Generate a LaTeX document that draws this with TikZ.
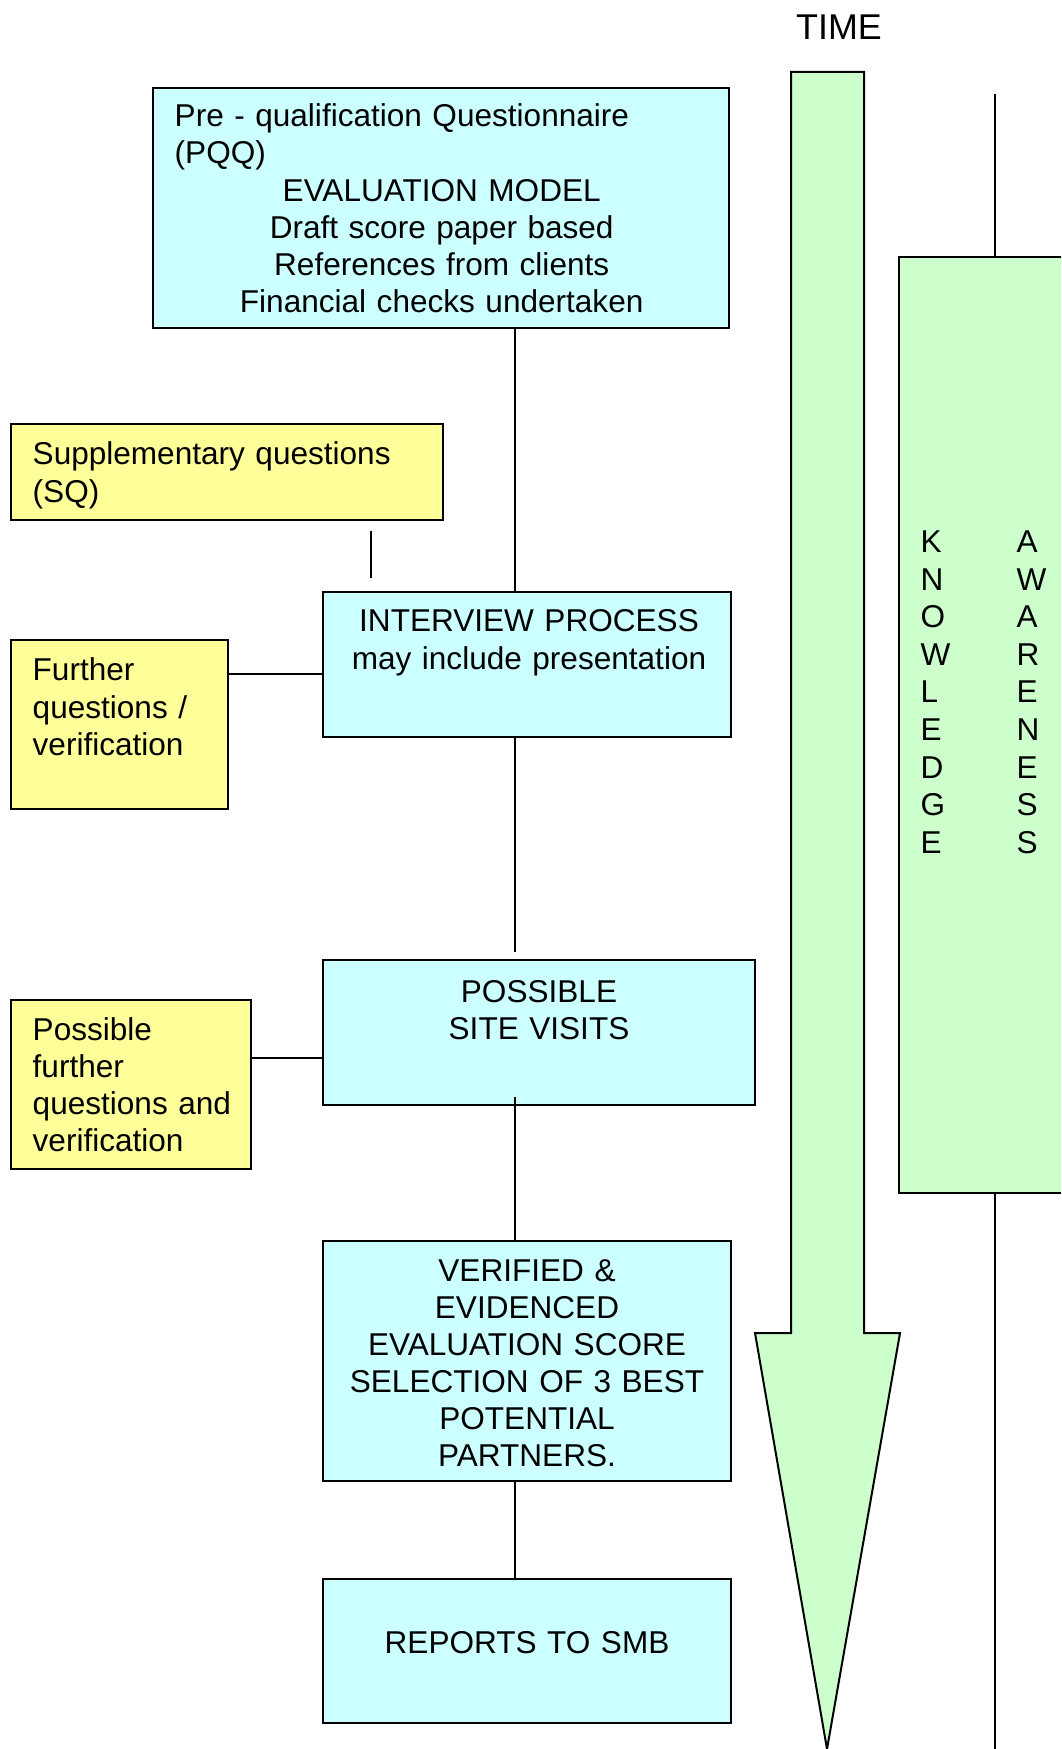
\documentclass[tikz,border=0pt]{standalone}
\usepackage{fontspec}
\setmainfont{Liberation Sans}
\usetikzlibrary{calc}

\definecolor{boxblue}{HTML}{CCFFFF}
\definecolor{boxyellow}{HTML}{FFFF99}
\definecolor{timegreen}{HTML}{CCFFCC}
\newcommand{\bodysize}{\fontsize{8.98pt}{10.53pt}\selectfont}

\tikzset{
  bluebox/.style={draw, line width=0.2mm, fill=boxblue, inner sep=0pt},
  yellowbox/.style={draw, line width=0.2mm, fill=boxyellow, inner sep=0pt},
  greenbox/.style={draw, line width=0.2mm, fill=timegreen},
  link/.style={line width=0.15mm},
  txt/.style={font=\bodysize, inner sep=0pt},
  letter/.style={font=\bodysize, inner sep=0pt, anchor=base west}
}

\begin{document}
\begin{tikzpicture}[x=0.1mm, y=-0.1mm]

        \useasboundingbox (0,0) rectangle (1061,1749);
        \clip (0,0) rectangle (1061,1749);

        % Knowledge / awareness band
        \coordinate (katop) at (995,94);
        \coordinate (kabot) at (995,1749);
        \node[greenbox, minimum width=19.2mm, minimum height=93.6mm] (ka) at (995,725) {};
        \draw[link] (katop) -- (ka.north);
        \draw[link] (ka.south) -- (kabot);
        \foreach \ch [count=\i from 0] in {K,N,O,W,L,E,D,G,E}
            \node[letter] (know\i) at (920, {552.5+37.6*\i}) {\ch};
        \foreach \ch [count=\i from 0] in {A,W,A,R,E,N,E,S,S}
            \node[letter] (aware\i) at (1016, {552.5+37.6*\i}) {\ch};

        % Time arrow
        \draw[greenbox, line join=miter] (791,72) -- (864,72) -- (864,1333) -- (900,1333)
            -- (827,1749) -- (755,1333) -- (791,1333) -- cycle;
        \node[font=\fontsize{10.2pt}{12pt}\selectfont, anchor=base, inner sep=0pt] (time) at (839,40) {TIME};

        % Process boxes
        \node[bluebox, minimum width=57.6mm, minimum height=24mm] (pqq) at (441,208) {};
        \node[yellowbox, minimum width=43.2mm, minimum height=9.6mm] (sq) at (227,472) {};
        \node[bluebox, minimum width=40.8mm, minimum height=14.5mm] (intv) at (527,664.5) {};
        \node[yellowbox, minimum width=21.7mm, minimum height=16.9mm] (further) at (119.5,724.5) {};
        \node[bluebox, minimum width=43.2mm, minimum height=14.5mm] (site) at (539,1032.5) {};
        \node[yellowbox, minimum width=24mm, minimum height=16.9mm] (posfur) at (131,1084.5) {};
        \node[bluebox, minimum width=40.8mm, minimum height=24mm] (verif) at (527,1361) {};
        \node[bluebox, minimum width=40.8mm, minimum height=14.4mm] (reports) at (527,1651) {};

        % Box texts
        \node[txt, text width=53.4mm, align=left, anchor=base west] (pqqtext) at (174,127)
            {Pre - qualification Questionnaire\\(PQQ)\par\centering EVALUATION MODEL\\Draft score paper based\\References from clients\\Financial checks undertaken\par};
        \node[txt, text width=40mm, align=left, anchor=base west] (sqtext) at (32,465) {Supplementary questions\\(SQ)};
        \node[txt, text width=38mm, align=center, anchor=base] (intvtext) at (529,632) {INTERVIEW PROCESS\\may include presentation};
        \node[txt, text width=19mm, align=left, anchor=base west] (furthertext) at (32,681) {Further\\questions /\\verification};
        \node[txt, text width=40mm, align=center, anchor=base] (sitetext) at (539,1002) {POSSIBLE\\SITE VISITS};
        \node[txt, text width=21.5mm, align=left, anchor=base west] (posfurtext) at (32,1040) {Possible\\further\\questions and\\verification};
        \node[txt, text width=38mm, align=center, anchor=base] (veriftext) at (527,1281)
            {VERIFIED \&\\EVIDENCED\\EVALUATION SCORE\\SELECTION OF 3 BEST\\POTENTIAL\\PARTNERS.};
        \node[txt, text width=38mm, align=center, anchor=base] (reptext) at (527,1653) {REPORTS TO SMB};

        % Main line
        \coordinate (spine) at (515,0);
        \draw[link] (pqq.south -| spine) -- (intv.north -| spine);
        \draw[link, shorten >=0.7mm] (intv.south -| spine) -- (site.north -| spine);
        \draw[link, shorten <=-0.9mm] (site.south -| spine) -- (verif.north -| spine);
        \draw[link] (verif.south -| spine) -- (reports.north -| spine);

        % Side lines
        \coordinate (sqstub) at (371,0);
        \draw[link, shorten <=1mm, shorten >=1.3mm] (sq.south -| sqstub) -- (intv.north -| sqstub);
        \coordinate (fq) at (0,674);
        \draw[link] (further.east |- fq) -- (intv.west |- fq);
        \coordinate (pf) at (0,1058);
        \draw[link] (posfur.east |- pf) -- (site.west |- pf);

\end{tikzpicture}
\end{document}
